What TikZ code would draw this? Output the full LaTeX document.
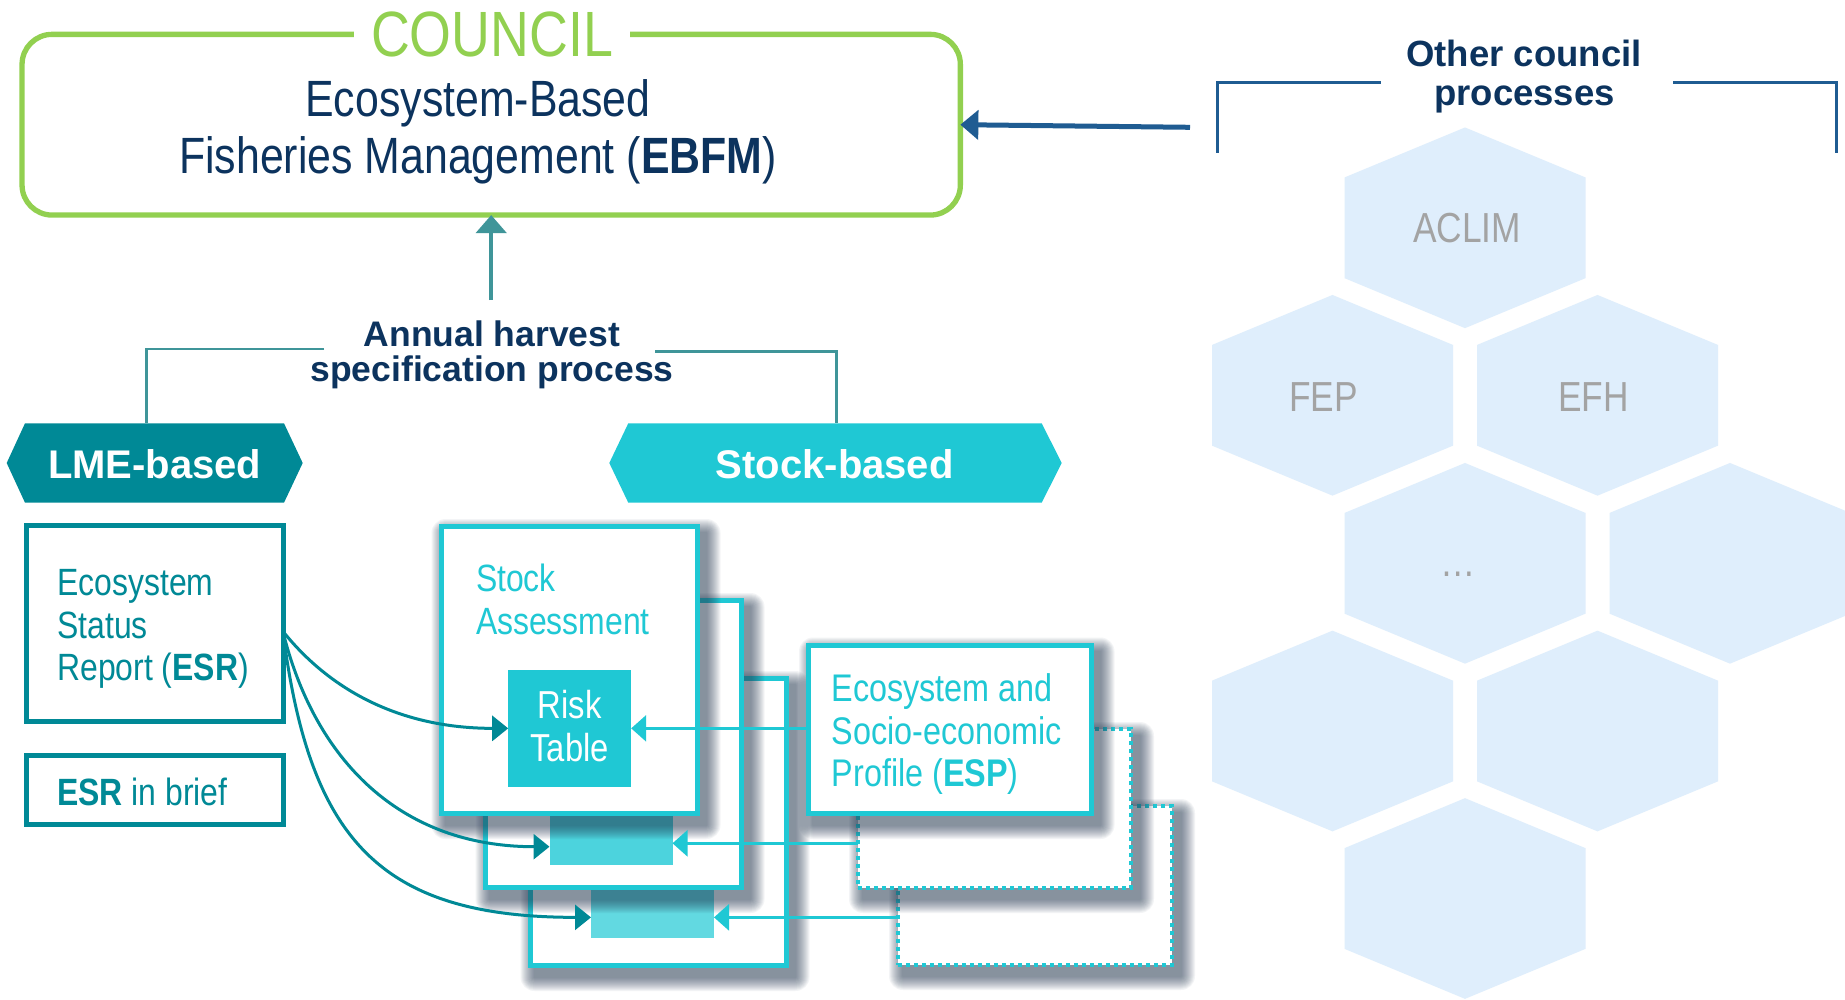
\documentclass[tikz,border=0pt]{standalone}
\usepackage{fontspec}
\setmainfont{Liberation Sans}
\newfontfamily\condfont[FakeStretch=0.84]{Liberation Sans}
\usetikzlibrary{arrows.meta,calc}

\definecolor{navy}{RGB}{12,51,94}
\definecolor{councilgreen}{RGB}{146,208,80}
\definecolor{esrteal}{RGB}{0,137,150}
\definecolor{stockcyan}{RGB}{31,200,212}
\definecolor{linkteal}{RGB}{63,149,153}
\definecolor{procblue}{RGB}{31,92,146}
\definecolor{hexfill}{RGB}{223,238,252}
\definecolor{hextext}{RGB}{163,163,163}
\definecolor{shadowcol}{RGB}{35,55,80}

% soft drop shadow behind a box given by its outer corners (x1,y1) and (x2,y2)
\newcommand{\boxshade}[4]{%
  \foreach \r in {1,...,14}{%
    \fill[shadowcol,fill opacity=0.05,rounded corners=\r pt]
      (#1+7-\r,#2+9-\r) rectangle (#3+7+\r,#4+9+\r);
  }%
}

\begin{document}
\begin{tikzpicture}[x=1pt,y=-1pt,
  every node/.style={inner sep=0pt,outer sep=0pt},
  hexlabel/.style={font=\condfont\fontsize{42}{42}\selectfont,text=hextext,anchor=base},
  navybold/.style={font=\bfseries\fontsize{35.5}{36}\selectfont,text=navy,anchor=base},
  stockbox/.style={draw=stockcyan,line width=5pt,fill=white,minimum width=256pt,minimum height=287pt},
  risktab/.style={minimum width=123pt,minimum height=117pt},
  espbox/.style={draw=stockcyan,line width=5pt,fill=white},
  espghost/.style={espbox,line width=4pt,dash pattern=on 4pt off 4pt},
  esrbox/.style={draw=esrteal,line width=5pt,minimum width=256.7pt},
  esrtext/.style={font=\condfont\fontsize{38}{38}\selectfont,text=esrteal,anchor=base west},
  cyantext/.style={font=\condfont\fontsize{38.5}{38.5}\selectfont,text=stockcyan,anchor=base west},
  risktext/.style={font=\condfont\fontsize{39}{39}\selectfont,text=white,anchor=base},
  bannertext/.style={font=\bfseries\fontsize{40}{40}\selectfont,text=white,anchor=base},
  esrlink/.style={draw=esrteal,line width=3pt,-{Triangle[length=16pt,width=25pt]}},
  esplink/.style={draw=stockcyan,line width=2.8pt,-{Triangle[length=15pt,width=26pt]}},
  bracketline/.style={draw=linkteal,line width=2.5pt},
  procline/.style={draw=procblue,line width=3pt}]

\path[use as bounding box,fill=white] (0,0) rectangle (1845,999);

% ---- honeycomb of other council processes ----
\foreach \cx/\cy in {1465/227.8,1332.5/395.3,1597.5/395.3,1465/563.3,1730/563.3,1332.5/731,1597.5/731,1465/898.5}{
  \fill[hexfill] (\cx,\cy-100.35) -- (\cx+120.5,\cy-50.35) -- (\cx+120.5,\cy+50.35)
    -- (\cx,\cy+100.35) -- (\cx-120.5,\cy+50.35) -- (\cx-120.5,\cy-50.35) -- cycle;
}
\node[hexlabel] (aclim) at (1467,242) {ACLIM};
\node[hexlabel] (fep) at (1323.5,411) {FEP};
\node[hexlabel] (efh) at (1593.7,411) {EFH};
\node[hexlabel] (more) at (1458,576) {…};

\node[font=\bfseries\fontsize{36.5}{37}\selectfont,text=navy,anchor=base] (ocp1) at (1524,66.9) {Other council};
\node[font=\bfseries\fontsize{36.5}{37}\selectfont,text=navy,anchor=base] (ocp2) at (1524.5,105) {processes};
\draw[procline] (1380.6,82) -- (1217.3,82) -- (1217.3,153.3);
\draw[procline] (1673,82) -- (1836.5,82) -- (1836.5,153.3);

% ---- council box ----
\node[draw=councilgreen,line width=5.3pt,rounded corners=30pt,minimum width=938.3pt,minimum height=180.7pt] (council) at (491.2,124.7) {};
\node[fill=white,inner xsep=17pt,inner ysep=4pt,anchor=base,font=\condfont\fontsize{64}{64}\selectfont,text=councilgreen] (councilttl) at (492,56) {COUNCIL};
\node[anchor=base,font=\condfont\fontsize{51}{51}\selectfont,text=navy] (ebfm1) at (478,116.7) {Ecosystem-Based};
\node[anchor=base,font=\condfont\fontsize{51}{51}\selectfont,text=navy] (ebfm2) at (478,173.3) {Fisheries Management (\textbf{EBFM})};

\coordinate (ocpout) at (1190,127.3);
\draw[draw=procblue,line width=5pt,-{Triangle[length=18pt,width=29pt]}] (ocpout) -- (council.east);

% ---- annual harvest specification process ----
\node[navybold] (harv1) at (492,346) {Annual harvest};
\node[navybold] (harv2) at (492,381.7) {specification process};
\coordinate (harvtop) at (491.2,300);
\draw[draw=linkteal,line width=4.5pt,-{Triangle[length=18pt,width=30pt]}] (harvtop) -- (council.south);

% banners
\node[minimum width=259pt,minimum height=79.4pt] (lme) at (154.5,463) {};
\fill[esrteal] (lme.north west) -- (lme.north east) -- ([xshift=18.7pt]lme.east) -- (lme.south east)
  -- (lme.south west) -- ([xshift=-18.3pt]lme.west) -- cycle;
\node[bannertext] (lmetxt) at (154.7,478) {LME-based};

\node[minimum width=413.4pt,minimum height=79.4pt] (stk) at (835,463) {};
\fill[stockcyan] (stk.north west) -- (stk.north east) -- ([xshift=20pt]stk.east) -- (stk.south east)
  -- (stk.south west) -- ([xshift=-19pt]stk.west) -- cycle;
\node[bannertext] (stktxt) at (834.7,478.3) {Stock-based};

\coordinate (hl) at (324,349);
\coordinate (hr) at (655,351.7);
\draw[bracketline] (hl) -| ([xshift=-7.8pt]lme.north);
\draw[bracketline] (hr) -| ([xshift=1.3pt]stk.north);

% ---- LME-based products ----
\node[esrbox,minimum height=195.7pt] (esr) at (154.85,623.65) {};
\node[esrtext] (esrl1) at (57.3,595) {Ecosystem};
\node[esrtext] (esrl2) at (57.3,638.3) {Status};
\node[esrtext] (esrl3) at (57.3,680) {Report (\textbf{ESR})};

\node[esrbox,minimum height=69pt] (esrbrief) at (154.85,790.3) {};
\node[esrtext] (esrbrieft) at (57.3,805) {\textbf{ESR} in brief};

% ---- stacked stock assessments ----
\boxshade{527.5}{676}{788.5}{968}
\node[stockbox] (sa3) at (658,822) {};
\node[risktab,fill=stockcyan!70!white] (risk3) at (652.5,879.35) {};
\boxshade{482.5}{598}{743.5}{890}
\node[stockbox] (sa2) at (613,744) {};
\node[risktab,fill=stockcyan!80!white] (risk2) at (611,806.5) {};
\boxshade{438.5}{524}{699.5}{816}
\node[stockbox] (sa1) at (569,670) {};
\node[risktab,fill=stockcyan] (risk1) at (569.7,728.35) {};
\node[cyantext,font=\condfont\fontsize{38}{38}\selectfont] (sat1) at (476,591.7) {Stock};
\node[cyantext,font=\condfont\fontsize{38}{38}\selectfont] (sat2) at (476,634.3) {Assessment};
\node[risktext] (rt1) at (569.7,718.3) {Risk};
\node[risktext] (rt2) at (569.7,761.7) {Table};

% ---- ecosystem and socio-economic profiles ----
\boxshade{896}{804}{1174}{967}
\node[espghost,minimum width=274pt,minimum height=159pt] (esp3) at (1035,885.5) {};
\boxshade{856}{727}{1133}{890}
\node[espghost,minimum width=273pt,minimum height=159pt] (esp2) at (994.5,808.5) {};
\boxshade{806}{642.5}{1093.5}{816}
\node[espbox,minimum width=282.5pt,minimum height=168.5pt] (esp1) at (949.75,729.25) {};
\node[cyantext] (espt1) at (831.7,701) {Ecosystem and};
\node[cyantext] (espt2) at (831.7,744.5) {Socio-economic};
\node[cyantext] (espt3) at (831.7,786.7) {Profile (\textbf{ESP})};

% ---- links into the risk tables ----
\draw[esrlink] ([yshift=-8pt]esr.east) .. controls (330,690) and (400,728.35) .. (risk1.west);
\draw[esrlink] ([yshift=-9pt]esr.east) .. controls (315,760) and (400,846.7) .. ([yshift=-40.2pt]risk2.west);
\draw[esrlink] ([yshift=-10pt]esr.east) .. controls (310,840) and (380,917.35) .. ([yshift=-38pt]risk3.west);

\coordinate (r2in) at ([yshift=-36.8pt]risk2.east);
\coordinate (r3in) at ([yshift=-38pt]risk3.east);
\draw[esplink] (esp1.west |- risk1.east) -- (risk1.east);
\draw[esplink] (esp2.west |- r2in) -- (r2in);
\draw[esplink] (esp3.west |- r3in) -- (r3in);
\end{tikzpicture}
\end{document}
